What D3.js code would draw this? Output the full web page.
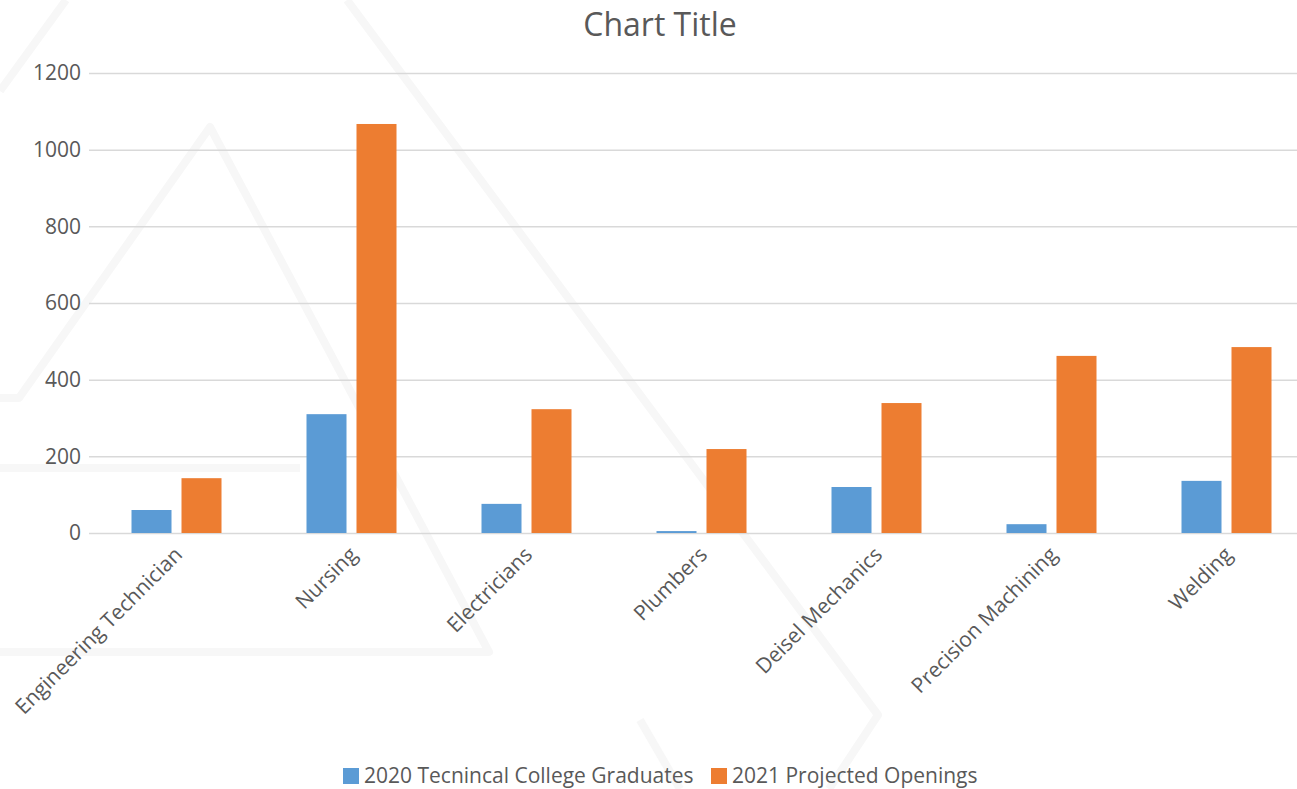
<!DOCTYPE html>
<html>
<head>
<meta charset="utf-8">
<script src="https://cdn.jsdelivr.net/npm/d3@7"></script>
<style>
  body { margin: 0; background: #fff; }
  svg { display: block; font-family: "Open Sans", "Noto Sans", sans-serif; }
  .tick text { fill: #595959; }
</style>
</head>
<body>
<div id="chart"></div>
<script>
var categories = ['Engineering Technician', 'Nursing', 'Electricians', 'Plumbers',
                  'Deisel Mechanics', 'Precision Machining', 'Welding'];
var seriesNames = ['2020 Tecnincal College Graduates', '2021 Projected Openings'];
var graduates = [60, 310, 76, 5, 120, 23, 136];
var openings = [143, 1067, 323, 219, 339, 462, 485];
var yTicks = [0, 200, 400, 600, 800, 1000, 1200];
var colors = ['#5B9BD5', '#ED7D31'];

// faint background watermark strokes (from the screenshot)
var watermark = [
  [[0, 91], [66, 0]],
  [[347, 0], [878, 715], [829, 789]],
  [[0, 398], [19, 398], [210, 127], [489, 652], [0, 652]],
  [[0, 468], [300, 468]],
  [[640, 720], [680, 789]]
];

var width = 1297, height = 789;
var margin = { top: 73, left: 89, bottom: 256 };
var plotBottom = height - margin.bottom;

var svg = d3.select('#chart').append('svg')
    .attr('width', width)
    .attr('height', height);

svg.append('g')
    .attr('class', 'watermark')
    .selectAll('path')
    .data(watermark)
    .enter().append('path')
    .attr('d', d3.line())
    .attr('fill', 'none')
    .attr('stroke', '#f7f7f7')
    .attr('stroke-width', 8)
    .attr('stroke-linejoin', 'round');

var x0 = d3.scaleBand()
    .domain(categories)
    .range([margin.left, margin.left + 175 * categories.length])
    .paddingInner(0)
    .paddingOuter(0);

var x1 = d3.scaleBand()
    .domain(seriesNames)
    .range([0, x0.bandwidth()])
    .paddingInner(0.2)
    .paddingOuter(0.85);

var y = d3.scaleLinear()
    .domain([0, 1200])
    .range([plotBottom, margin.top]);

// y axis with gridlines
var yAxis = svg.append('g')
    .attr('class', 'yaxis')
    .attr('transform', 'translate(' + margin.left + ',0)')
    .call(d3.axisLeft(y)
          .tickValues(yTicks)
          .tickFormat(d3.format('d'))
          .tickSize(-(width - margin.left))
          .tickPadding(8))
    .attr('font-family', null)
    .attr('font-size', null);

yAxis.select('.domain').remove();
yAxis.selectAll('.tick line')
    .attr('stroke', '#d9d9d9')
    .attr('stroke-width', 1.5);
yAxis.selectAll('.tick text')
    .attr('font-size', 21);

// bars
var rows = categories.map(function(c, i) {
  return { category: c, values: [graduates[i], openings[i]] };
});

var groups = svg.append('g')
    .selectAll('g')
    .data(rows)
    .enter().append('g')
    .attr('transform', function(d) { return 'translate(' + x0(d.category) + ',0)'; });

groups.selectAll('rect')
    .data(function(d) {
      return d.values.map(function(v, j) { return { name: seriesNames[j], value: v, idx: j }; });
    })
    .enter().append('rect')
    .attr('x', function(d) { return x1(d.name); })
    .attr('y', function(d) { return y(d.value); })
    .attr('width', x1.bandwidth())
    .attr('height', function(d) { return plotBottom - y(d.value); })
    .attr('fill', function(d) { return colors[d.idx]; });

// x axis, rotated labels
var xAxis = svg.append('g')
    .attr('class', 'xaxis')
    .attr('transform', 'translate(0,' + plotBottom + ')')
    .call(d3.axisBottom(x0).tickSize(0))
    .attr('font-family', null)
    .attr('font-size', null);

xAxis.select('.domain').remove();
xAxis.selectAll('.tick text')
    .attr('font-size', 21)
    .attr('text-anchor', 'end')
    .attr('x', 0)
    .attr('y', 0)
    .attr('dy', 0)
    .attr('transform', 'translate(7,23) rotate(-45)');

// title
svg.append('text')
    .attr('x', 660)
    .attr('y', 36)
    .attr('text-anchor', 'middle')
    .attr('font-size', 32)
    .attr('fill', '#595959')
    .text('Chart Title');

// legend
var legendX = [343, 711];
var legend = svg.append('g')
    .selectAll('g')
    .data(seriesNames)
    .enter().append('g')
    .attr('transform', function(d, i) { return 'translate(' + legendX[i] + ',768)'; });

legend.append('rect')
    .attr('width', 16)
    .attr('height', 16)
    .attr('fill', function(d, i) { return colors[i]; });

legend.append('text')
    .attr('x', 21)
    .attr('y', 15)
    .attr('font-size', 21)
    .attr('fill', '#595959')
    .text(function(d) { return d; });
</script>
</body>
</html>
